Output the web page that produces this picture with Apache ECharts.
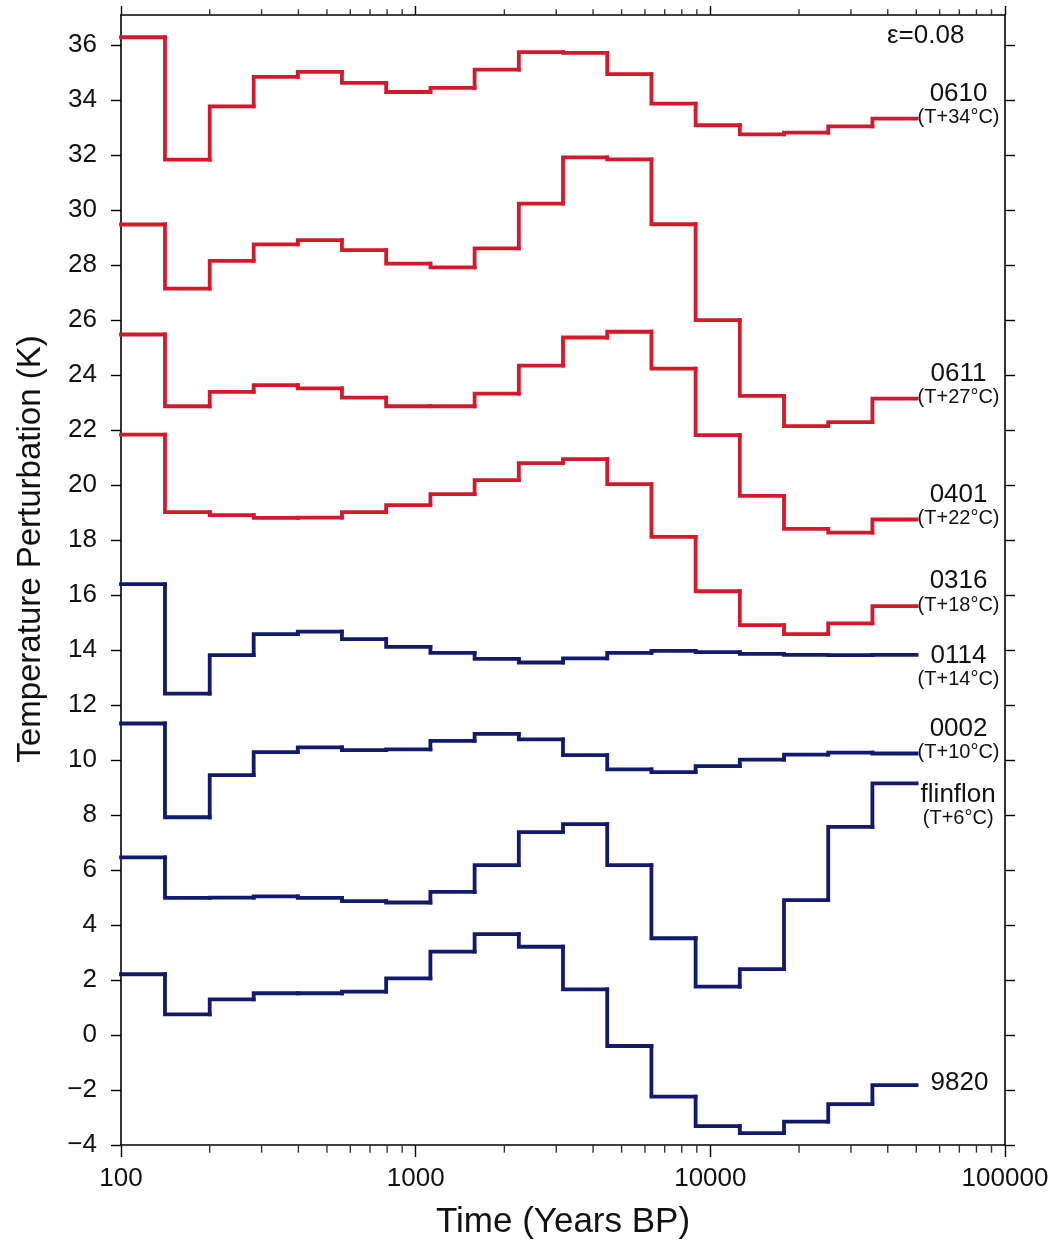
<!DOCTYPE html>
<html>
<head>
<meta charset="utf-8">
<script src="https://cdn.jsdelivr.net/npm/echarts@6/dist/echarts.min.js"></script>
<style>
  html, body { margin: 0; padding: 0; background: #ffffff; }
  #chart { width: 1059px; height: 1253px; }
</style>
</head>
<body>
<div id="chart"></div>
<script>
// Time-bin edges (years BP) shared by every borehole inversion
const binEdges = [100, 141, 200, 282, 398, 562, 794, 1122, 1585, 2239, 3162, 4467, 6310, 8913, 12589, 17783, 25119, 35481, 50119];

// Temperature perturbation per bin (K), already shifted by the offset noted in each label
const s0610 = [36.29, 31.84, 33.78, 34.85, 35.03, 34.63, 34.30, 34.45, 35.11, 35.75, 35.72, 34.95, 33.88, 33.09, 32.76, 32.82, 33.05, 33.33];
const s0611 = [29.48, 27.15, 28.16, 28.76, 28.91, 28.55, 28.06, 27.92, 28.61, 30.24, 31.92, 31.85, 29.49, 26.00, 23.25, 22.15, 22.29, 23.15];
const s0401 = [25.48, 22.87, 23.39, 23.64, 23.52, 23.18, 22.87, 22.87, 23.33, 24.35, 25.37, 25.58, 24.24, 21.82, 19.61, 18.41, 18.27, 18.75];
const s0316 = [21.84, 19.02, 18.91, 18.81, 18.82, 19.02, 19.27, 19.67, 20.18, 20.80, 20.95, 20.04, 18.12, 16.14, 14.91, 14.58, 14.97, 15.60];
const s0114 = [16.40, 12.42, 13.82, 14.58, 14.67, 14.40, 14.12, 13.90, 13.68, 13.55, 13.70, 13.90, 13.97, 13.93, 13.86, 13.83, 13.82, 13.83];
const s0002 = [11.33, 7.92, 9.45, 10.29, 10.46, 10.36, 10.39, 10.70, 10.95, 10.75, 10.18, 9.66, 9.56, 9.78, 10.02, 10.20, 10.27, 10.24];
const sFlinflon = [6.46, 4.99, 5.00, 5.04, 4.99, 4.87, 4.82, 5.21, 6.18, 7.38, 7.67, 6.18, 3.52, 1.76, 2.40, 4.91, 7.57, 9.15];
const s9820 = [2.21, 0.75, 1.30, 1.52, 1.52, 1.58, 2.06, 3.03, 3.67, 3.21, 1.66, -0.40, -2.24, -3.31, -3.57, -3.15, -2.51, -1.82];

// Site names and the offsets added to each curve
const siteNames = ['0610', '0611', '0401', '0316', '0114', '0002', 'flinflon', '9820'];
const siteOffsets = ['(T+34\u00B0C)', '(T+27\u00B0C)', '(T+22\u00B0C)', '(T+18\u00B0C)', '(T+14\u00B0C)', '(T+10\u00B0C)', '(T+6\u00B0C)', ''];
const siteValues = [s0610, s0611, s0401, s0316, s0114, s0002, sFlinflon, s9820];

// Axis ticks
const yTicks = [-4, -2, 0, 2, 4, 6, 8, 10, 12, 14, 16, 18, 20, 22, 24, 26, 28, 30, 32, 34, 36];
const xMin = 100, xMax = 100000, yMin = -4, yMax = 37.1;

const RED = '#d4192c';
const NAVY = '#111a6c';
const FONT = '"Liberation Sans", Arial, Helvetica, sans-serif';
const LINE_W = 3.8;

const siteColors = [RED, RED, RED, RED, NAVY, NAVY, NAVY, NAVY];
// placement of the end label block relative to the final step (px)
const labelDy = [-14, -14, -14, -14, 12, -14, 22, -2];
const labelDx = [0, 0, 0, 0, 0, 0, 3, 13];

// Log-axis minor tick positions (2..9 within each decade)
const minorTicks = [];
for (let d = xMin; d < xMax; d *= 10) {
  for (let m = 2; m <= 9; m++) minorTicks.push(d * m);
}

// One custom series per site: each bin is a riser from the previous level
// followed by a flat run across the bin, so every corner stays square.
function stepSeries(idx) {
  const vals = siteValues[idx];
  const color = siteColors[idx];
  const data = vals.map((v, i) => [binEdges[i], binEdges[i + 1], v, i > 0 ? vals[i - 1] : v]);
  const lastIdx = data.length - 1;
  const richText = siteOffsets[idx]
    ? '{n|' + siteNames[idx] + '}\n{t|' + siteOffsets[idx] + '}'
    : '{n|' + siteNames[idx] + '}';
  return {
    type: 'custom',
    name: siteNames[idx],
    xAxisIndex: 0,
    yAxisIndex: 0,
    clip: false,
    silent: true,
    animation: false,
    encode: { x: [0, 1], y: [2, 3] },
    data: data,
    z: 3,
    renderItem: function (params, api) {
      const x0 = api.value(0), x1 = api.value(1), y = api.value(2), yPrev = api.value(3);
      const pA = api.coord([x0, yPrev]);
      const pB = api.coord([x0, y]);
      const pC = api.coord([x1, y]);
      const children = [{
        type: 'polyline',
        shape: { points: [pA, pB, pC] },
        style: { stroke: color, lineWidth: LINE_W, fill: null, lineCap: 'square', lineJoin: 'miter' }
      }];
      if (params.dataIndex === lastIdx) {
        children.push({
          type: 'text',
          x: pC[0] + 1 + labelDx[idx],
          y: pC[1] + labelDy[idx],
          style: {
            text: richText,
            align: 'left',
            verticalAlign: 'middle',
            fill: '#111',
            font: '26px ' + FONT,
            rich: {
              n: { fontSize: 26, lineHeight: 26, align: 'center', fill: '#111', fontFamily: FONT },
              t: { fontSize: 20, lineHeight: 22, align: 'center', fill: '#111', fontFamily: FONT }
            }
          }
        });
      }
      return { type: 'group', children: children };
    }
  };
}

function minorTickSeries(yVal, len, offY) {
  return {
    type: 'scatter',
    silent: true,
    animation: false,
    clip: false,
    xAxisIndex: 0,
    yAxisIndex: 0,
    symbol: 'rect',
    symbolSize: [1.4, len],
    symbolOffset: [0, offY],
    itemStyle: { color: '#000' },
    data: minorTicks.map(x => [x, yVal]),
    z: 5
  };
}

const series = siteNames.map((_, i) => stepSeries(i));
series.push(minorTickSeries(yMin, 7, 4.2));
series.push(minorTickSeries(yMax, 5, -3.2));

const axisLineStyle = { show: true, onZero: false, lineStyle: { color: '#000', width: 1.6 } };

const option = {
  backgroundColor: '#ffffff',
  animation: false,
  grid: { left: 121, right: 54, top: 15, bottom: 108, containLabel: false },
  xAxis: [
    {
      type: 'log', logBase: 10, min: xMin, max: xMax, position: 'bottom',
      axisLine: axisLineStyle,
      axisTick: { show: true, inside: false, length: 12, lineStyle: { color: '#000', width: 1.4 } },
      minorTick: { show: false },
      splitLine: { show: false },
      axisLabel: {
        margin: 21, fontSize: 26, color: '#111', fontFamily: FONT,
        formatter: v => String(Math.round(v))
      },
      name: 'Time (Years BP)', nameLocation: 'middle', nameGap: 60,
      nameTextStyle: { fontSize: 35, color: '#111', fontFamily: FONT }
    },
    {
      type: 'log', logBase: 10, min: xMin, max: xMax, position: 'top',
      axisLine: axisLineStyle,
      axisTick: { show: true, inside: false, length: 9, lineStyle: { color: '#000', width: 1.4 } },
      axisLabel: { show: false },
      splitLine: { show: false }
    }
  ],
  yAxis: [
    {
      type: 'value', min: yMin, max: yMax, interval: 2, position: 'left',
      axisLine: axisLineStyle,
      axisTick: { show: true, inside: false, length: 10, customValues: yTicks, lineStyle: { color: '#000', width: 1.4 } },
      splitLine: { show: false },
      axisLabel: {
        margin: 24, fontSize: 26, color: '#111', fontFamily: FONT, customValues: yTicks,
        formatter: v => (v < 0 ? '\u2212' + Math.abs(v) : String(v))
      },
      name: 'Temperature Perturbation (K)', nameLocation: 'middle', nameGap: 74,
      nameTextStyle: { fontSize: 33, color: '#111', fontFamily: FONT, padding: [0, 0, 0, 62] }
    },
    {
      type: 'value', min: yMin, max: yMax, interval: 2, position: 'right',
      axisLine: axisLineStyle,
      axisTick: { show: true, inside: false, length: 10, customValues: yTicks, lineStyle: { color: '#000', width: 1.4 } },
      splitLine: { show: false },
      axisLabel: { show: false }
    }
  ],
  graphic: [
    {
      type: 'text', left: 887, top: 23, silent: true,
      style: { text: '\u03B5=0.08', fontSize: 26, fill: '#111', fontFamily: FONT }
    }
  ],
  series: series
};

const chart = echarts.init(document.getElementById('chart'), null, { renderer: 'canvas' });
chart.setOption(option);
</script>
</body>
</html>
